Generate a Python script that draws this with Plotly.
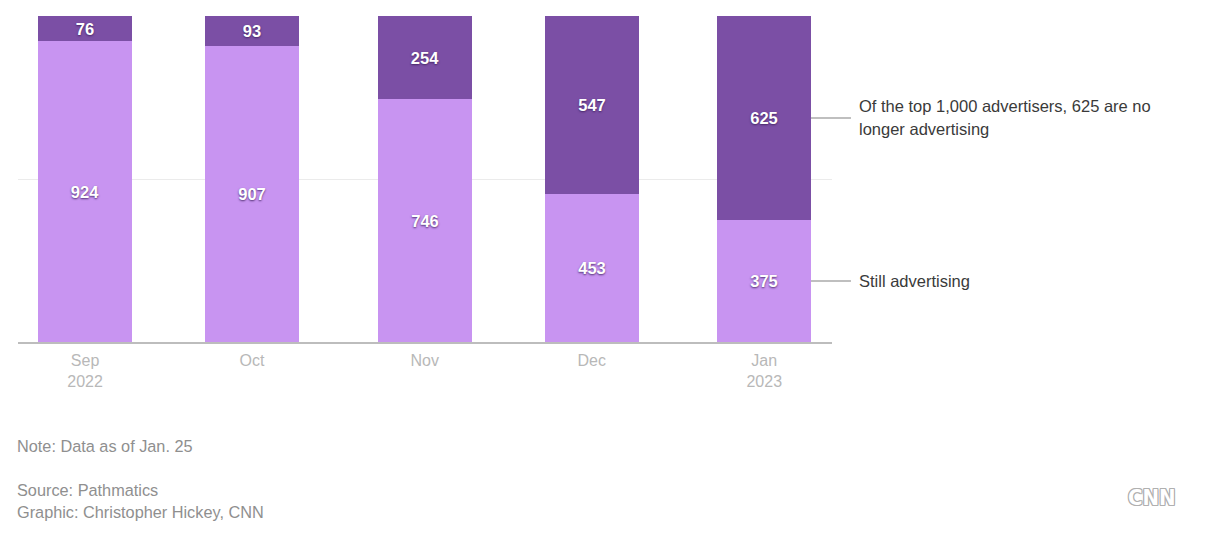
import plotly.graph_objects as go

months = ["2022-09-01", "2022-10-01", "2022-11-01", "2022-12-01", "2023-01-01"]
tick_labels = ["Sep<br>2022", "Oct", "Nov", "Dec", "Jan<br>2023"]
still_advertising = [924, 907, 746, 453, 375]
stopped_advertising = [76, 93, 254, 547, 625]

LIGHT = "#c894f1"
DARK = "#7b4fa5"
FONT = "Liberation Sans, Arial, sans-serif"
BAR_WIDTH_MS = 16.9 * 86400000
SHADOW = "0px 1px 2px rgba(60,30,90,0.85)"

fig = go.Figure()
for vals, col in [(still_advertising, LIGHT), (stopped_advertising, DARK)]:
    fig.add_trace(go.Bar(
        x=months, y=vals, width=BAR_WIDTH_MS, marker=dict(color=col, line=dict(width=0)),
        text=[str(v) for v in vals], textposition="inside", insidetextanchor="middle",
        textangle=0, constraintext="none",
        textfont=dict(family=FONT, size=16.5, color="white", weight="bold", shadow=SHADOW),
        hoverinfo="skip",
    ))

# page body has an 8px offset; margins compensate so the plot area sits at x 18-832, y 16-342
fig.update_layout(
    barmode="stack", width=1214, height=534, showlegend=False,
    paper_bgcolor="white", plot_bgcolor="white",
    margin=dict(l=10, r=390, t=8, b=200),
    font=dict(family=FONT),
    bargap=0,
)
fig.update_xaxes(
    type="date", range=["2022-08-19 23:00", "2023-01-13 04:00"],
    tickvals=months, ticktext=tick_labels, ticks="",
    tickfont=dict(size=16, color="#b8b8b8", family=FONT),
    ticklabelstandoff=3,
    showgrid=False, showline=True, linecolor="#bdbdbd", linewidth=2,
    fixedrange=True,
)
fig.update_yaxes(
    range=[0, 1000], dtick=500, showticklabels=False, showgrid=True,
    gridcolor="#ebebeb", gridwidth=1, zeroline=False, fixedrange=True,
)

# connector lines and labels for the last bar
last = len(months) - 1
y_top = still_advertising[last] + stopped_advertising[last] / 2
y_bot = still_advertising[last] / 2
for yv in (y_top, y_bot):
    fig.add_shape(type="line", xref="paper", yref="y", x0=0.9742, x1=1.0233,
                  y0=yv, y1=yv, line=dict(color="#aaaaaa", width=1.5))

ann_font = dict(family=FONT, size=16.5, color="#3a3a3a")
fig.add_annotation(xref="paper", yref="y", x=1.0332, y=y_top, yshift=11.5, xshift=-2,
                   text="Of the top 1,000 advertisers, 625 are no", showarrow=False,
                   xanchor="left", yanchor="middle", font=ann_font)
fig.add_annotation(xref="paper", yref="y", x=1.0332, y=y_top, yshift=-11.5, xshift=-2,
                   text="longer advertising", showarrow=False,
                   xanchor="left", yanchor="middle", font=ann_font)
fig.add_annotation(xref="paper", yref="y", x=1.0332, y=y_bot, xshift=-2,
                   text="Still advertising", showarrow=False,
                   xanchor="left", yanchor="middle", font=ann_font)

note_font = dict(family=FONT, size=16.3, color="#8f8f8f")
for txt, ypx in [("Note: Data as of Jan. 25", 446),
                 ("Source: Pathmatics", 490),
                 ("Graphic: Christopher Hickey, CNN", 512)]:
    fig.add_annotation(xref="paper", yref="paper", x=-0.0012, y=(342 - ypx) / 326.0, xshift=-2,
                       text=txt, showarrow=False, xanchor="left", yanchor="middle",
                       font=note_font)

fig.add_annotation(
    xref="paper", yref="paper", x=(1152 - 18) / 814.0, y=(342 - 498) / 326.0,
    text="<b>CNN</b>", showarrow=False, xanchor="center", yanchor="middle",
    font=dict(family="DejaVu Sans Condensed, Liberation Sans Narrow, sans-serif", size=22,
              color="white",
              shadow="1px 0 0 #b0b0b0, -1px 0 0 #b0b0b0, 0 1px 0 #b0b0b0, 0 -1px 0 #b0b0b0, 1px 1px 0 #b0b0b0, -1px -1px 0 #b0b0b0, 1px -1px 0 #b0b0b0, -1px 1px 0 #b0b0b0"),
)

fig.write_html("out.html")
